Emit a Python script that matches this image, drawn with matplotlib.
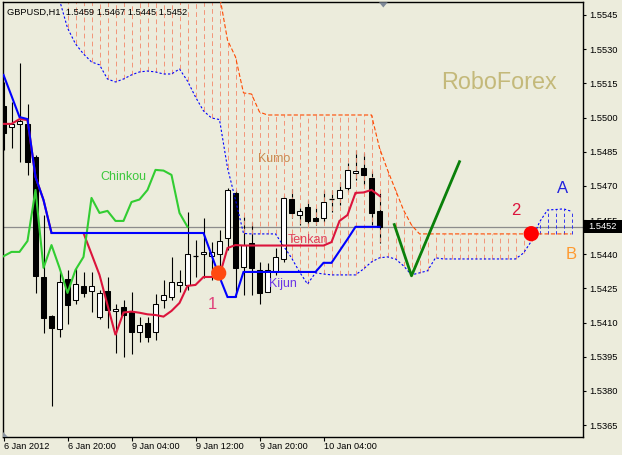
import matplotlib
matplotlib.use("Agg")
import matplotlib.pyplot as plt
from matplotlib.patches import Rectangle, Polygon

plt.rcParams['font.family'] = ['Liberation Sans', 'DejaVu Sans']
plt.rcParams['lines.scale_dashes'] = False

# ---------------- data ----------------
opens = [1.55051, 1.54958, 1.54971, 1.54971, 1.54827, 1.54300, 1.54129, 1.54071, 1.54291, 1.54199,
         1.54261, 1.54239, 1.54124, 1.54239, 1.54151, 1.54168, 1.54146, 1.54058, 1.54098, 1.54058,
         1.54199, 1.54212, 1.54265, 1.54265, 1.54393, 1.54401, 1.54393, 1.54401, 1.54471, 1.54669,
         1.54344, 1.54449, 1.54331, 1.54234, 1.54322, 1.54379, 1.54642, 1.54572, 1.54607, 1.54559,
         1.54559, 1.54642, 1.54647, 1.54691, 1.54758, 1.54779, 1.54735, 1.5459]
highs = [1.55156, 1.55068, 1.55240, 1.55059, 1.54836, 1.54572, 1.54133, 1.54322, 1.54331, 1.54340,
         1.54322, 1.54322, 1.54243, 1.54300, 1.54181, 1.54199, 1.54234, 1.54124, 1.54124, 1.54225,
         1.54287, 1.54388, 1.54331, 1.54585, 1.54462, 1.54559, 1.54453, 1.54506, 1.54691, 1.54682,
         1.54563, 1.54541, 1.54366, 1.54362, 1.54427, 1.54656, 1.54686, 1.54603, 1.54638, 1.54603,
         1.54682, 1.54682, 1.54717, 1.54801, 1.54858, 1.54845, 1.54766, 1.5467]
lows = [1.54858, 1.54866, 1.54805, 1.54748, 1.54230, 1.54054, 1.53734, 1.54036, 1.54093, 1.54181,
        1.54212, 1.54146, 1.54115, 1.54076, 1.53967, 1.53949, 1.53962, 1.54014, 1.54014, 1.54023,
        1.54164, 1.54199, 1.54234, 1.54243, 1.54300, 1.54296, 1.54287, 1.54344, 1.54419, 1.54212,
        1.54221, 1.54221, 1.54181, 1.54234, 1.54309, 1.54366, 1.54559, 1.54528, 1.54528, 1.54528,
        1.54541, 1.54585, 1.54616, 1.54673, 1.54726, 1.54704, 1.54528, 1.5445]
closes = [1.54932, 1.54971, 1.54985, 1.54805, 1.54305, 1.54120, 1.54076, 1.54278, 1.54177, 1.54269,
          1.54230, 1.54261, 1.54230, 1.54155, 1.54159, 1.54133, 1.54058, 1.54089, 1.54036, 1.54181,
          1.54221, 1.54278, 1.54278, 1.54401, 1.54391, 1.54410, 1.54410, 1.54458, 1.54682, 1.54340,
          1.54440, 1.54340, 1.54230, 1.54331, 1.54388, 1.54647, 1.54581, 1.54590, 1.54546, 1.54546,
          1.54629, 1.54640, 1.54682, 1.54770, 1.54767, 1.54748, 1.54581, 1.5452]

tenkan = [1.54972, 1.54972, 1.54993, 1.54989, 1.54739, 1.54638, 1.54493, 1.54493, 1.54493, 1.54493,
          1.54493, 1.54401, 1.54309, 1.54177, 1.54045, 1.54144, 1.54148, 1.54143, 1.54136, 1.54133,
          1.54126, 1.54151, 1.54186, 1.54261, 1.54265, 1.54300, 1.54300, 1.54305, 1.54427, 1.54440,
          1.54438, 1.54438, 1.54438, 1.54438, 1.54438, 1.54438, 1.54438, 1.54438, 1.54438, 1.54438,
          1.54438, 1.54453, 1.54546, 1.54572, 1.54669, 1.54671, 1.54682, 1.54656]

kijun = [1.55187, 1.55095, 1.55002, 1.54993, 1.54739, 1.54638, 1.54493, 1.54493, 1.54493, 1.54493,
         1.54493, 1.54493, 1.54493, 1.54493, 1.54493, 1.54493, 1.54493, 1.54493, 1.54493, 1.54493,
         1.54493, 1.54493, 1.54493, 1.54493, 1.54493, 1.54493, 1.54397, 1.54300, 1.54212, 1.54212,
         1.54322, 1.54322, 1.54322, 1.54322, 1.54322, 1.54322, 1.54322, 1.54322, 1.54322, 1.54322,
         1.54362, 1.54362, 1.54414, 1.54466, 1.5452, 1.5452, 1.5452, 1.5452]

span_a_start = 7
span_a = [1.55516, 1.55393, 1.55323, 1.55279, 1.55244, 1.55231, 1.55169, 1.55156, 1.55169, 1.55187,
          1.55200, 1.55204, 1.55200, 1.55191, 1.55191, 1.55213, 1.55160, 1.55090, 1.55029, 1.54998,
          1.54991, 1.54779, 1.54638, 1.54491, 1.54489, 1.54489, 1.54489, 1.54489, 1.54436, 1.54384,
          1.54322, 1.54269, 1.54318, 1.54313, 1.54309, 1.54309, 1.54309, 1.54309, 1.54335, 1.54366,
          1.54384, 1.54388, 1.54379, 1.54349, 1.54309, 1.54318, 1.54327, 1.54384, 1.54379, 1.54379,
          1.54379, 1.54379, 1.54379, 1.54379, 1.54379, 1.54379, 1.54379, 1.54379, 1.54405, 1.54458,
          1.54541, 1.54594, 1.54596, 1.54599, 1.54588]

span_b_start = 27
span_b = [1.55538, 1.55340, 1.55266, 1.55108, 1.55103, 1.55024, 1.55011, 1.55011, 1.55011, 1.55011,
          1.55011, 1.55011, 1.55011, 1.55011, 1.55011, 1.55011, 1.55011, 1.55011, 1.55011, 1.55011,
          1.54866, 1.54770, 1.54682, 1.54594, 1.54528, 1.54489, 1.54489, 1.54489, 1.54489, 1.54489,
          1.54489, 1.54489, 1.54489, 1.54489, 1.54489, 1.54489, 1.54489, 1.54489, 1.54489, 1.54489,
          1.54489, 1.54489, 1.54489, 1.54489, 1.54489]

chinkou_shift = 24

forecast_x = [48.85, 51.0, 57.0]
forecast_y = [1.54530, 1.54305, 1.54806]

signal_x = [26.9, 65.97]
signal_y = [1.54317, 1.54490]
signal_colors = ['#FF4A10', '#FF0000']

y_ticks = [1.5365, 1.5380, 1.5395, 1.5410, 1.5425, 1.5440, 1.5455,
           1.5470, 1.5485, 1.5500, 1.5515, 1.5530, 1.5545]
x_tick_pos = [0, 8, 16, 24, 32, 40]
x_tick_labels = ['6 Jan 2012', '6 Jan 20:00', '9 Jan 04:00', '9 Jan 12:00',
                 '9 Jan 20:00', '10 Jan 04:00']
last_price = 1.5452
header = 'GBPUSD,H1  1.5459 1.5467 1.5445 1.5452'

# ---------------- layout ----------------
W, H = 622, 455
BG = '#ECECDC'
L, R, T, B = 2.5, 583.0, 2.3, 436.7

fig = plt.figure(figsize=(W / 100, H / 100), dpi=100, facecolor=BG)
ax = fig.add_axes([L / W, 1 - B / H, (R - L) / W, (B - T) / H])
ax.set_facecolor(BG)
ax.set_xlim(-0.125, 72.4375)
ymin, ymax = 1.535988, 1.555057
ax.set_ylim(ymin, ymax)

for s in ax.spines.values():
    s.set_color('black')
    s.set_linewidth(1.0)

ax.yaxis.tick_right()
ax.set_yticks(y_ticks)
ax.set_yticklabels([f'{v:.4f}' for v in y_ticks])
ax.tick_params(axis='y', direction='out', length=2.4, width=0.8, pad=2.2,
               labelsize=6.7, colors='black')
ax.set_xticks(x_tick_pos)
ax.set_xticklabels(x_tick_labels, ha='left')
ax.tick_params(axis='x', direction='out', length=3.0, width=0.8, pad=0.6,
               labelsize=6.6, colors='black')

# current price line
ax.axhline(last_price, color='#8C8C8C', lw=0.9, zorder=1.5)

# candles
for i, (o, h, l, c) in enumerate(zip(opens, highs, lows, closes)):
    ax.vlines(i, l, h, color='black', lw=0.8, zorder=2)
    if abs(c - o) < 3e-5:
        ax.hlines(o, i - 0.3, i + 0.3, color='black', lw=0.9, zorder=3)
    else:
        ax.add_patch(Rectangle((i - 0.26, min(o, c)), 0.52, abs(c - o),
                               facecolor='white' if c > o else 'black',
                               edgecolor='black', lw=0.75, zorder=3))

# cloud hatching
n_total = span_a_start + len(span_a)
for i in range(span_a_start + 1, n_total):
    a = span_a[i - span_a_start]
    b = span_b[i - span_b_start] if i >= span_b_start else ymax + 0.001
    if b >= a:
        ax.vlines(i, a, b, color='#F38F72', lw=0.65, linestyles=(0, (3.4, 2.4)), zorder=2.5)
    else:
        ax.vlines(i, b, a, color='#2A2AF0', lw=0.65, linestyles=(0, (2.4, 1.8)), zorder=2.5)

xa = list(range(span_a_start, n_total))
xb = list(range(span_b_start, span_b_start + len(span_b)))
ax.plot(xa, span_a, color='#0000FF', lw=0.8, ls=(0, (1.6, 1.5)), zorder=4)
ax.plot(xb, span_b, color='#FF4A00', lw=0.8, ls=(0, (3.0, 1.6)), zorder=4)

# Tenkan / Kijun / Chinkou
xs = list(range(len(closes)))
ax.plot(xs, tenkan, color='#DC143C', lw=1.5, zorder=5, solid_joinstyle='miter')
ax.plot(xs, kijun, color='#0000FF', lw=1.5, zorder=5.5, solid_joinstyle='miter')
xc = [i - chinkou_shift for i in range(chinkou_shift, len(closes))]
ax.plot(xc, closes[chinkou_shift:], color='#32CD32', lw=1.5, zorder=5)

# forecast and signals
ax.plot(forecast_x, forecast_y, color='#0A800A', lw=2.0, zorder=6)
ax.scatter(signal_x, signal_y, s=120, c=signal_colors, edgecolors='none', zorder=7)

# labels
txt = dict(zorder=8, ha='left', va='baseline')
ax.text(12.15, 1.54726, 'Chinkou', color='#3CC83C', fontsize=9, **txt)
ax.text(31.8, 1.54806, 'Kumo', color='#C98A50', fontsize=9, **txt)
ax.text(35.47, 1.54451, 'Tenkan', color='#E0405A', fontsize=9, **txt)
ax.text(33.2, 1.54256, 'Kijun', color='#6A35E6', fontsize=9, **txt)
ax.text(54.65, 1.55125, 'RoboForex', color='#C4B97A', fontsize=16.8, **txt)
ax.text(25.47, 1.54158, '1', color='#E0407A', fontsize=12, **txt)
ax.text(63.44, 1.54572, '2', color='#DC143C', fontsize=12, **txt)
ax.text(69.22, 1.54667, 'A', color='#2222DD', fontsize=12, **txt)
ax.text(70.31, 1.54379, 'B', color='#FF9A30', fontsize=12, **txt)

# header
fig.text(7.3 / W, 1 - 15.2 / H, header, fontsize=6.7, color='black', ha='left', va='baseline')

# last price box
def fpx(x, y):
    return (x / W, 1 - y / H)

yp = 15 + (1.5545 - last_price) / 0.0015 * 34.17
bx0, by0 = fpx(583.5, yp + 6.5)
bx1, by1 = fpx(622, yp - 6.5)
fig.patches.append(Rectangle((bx0, by0), bx1 - bx0, by1 - by0, transform=fig.transFigure,
                             facecolor='black', edgecolor='none', zorder=10))
fig.text(588.3 / W, 1 - yp / H, f'{last_price:.4f}', color='white', fontsize=6.7,
         ha='left', va='center', zorder=11)

# shift marker triangle (top) and corner marker (bottom-left)
fig.patches.append(Polygon([fpx(379, 2.3), fpx(387.7, 2.3), fpx(383.3, 7.5)], closed=True,
                           transform=fig.transFigure, facecolor='#7F8A99', edgecolor='none', zorder=10))
fig.patches.append(Polygon([fpx(3.0, 431.5), fpx(3.0, 436.5), fpx(8.0, 436.5)], closed=True,
                           transform=fig.transFigure, facecolor='#8A94A0', edgecolor='none', zorder=10))

fig.savefig('out.png', dpi=100, facecolor=BG)
